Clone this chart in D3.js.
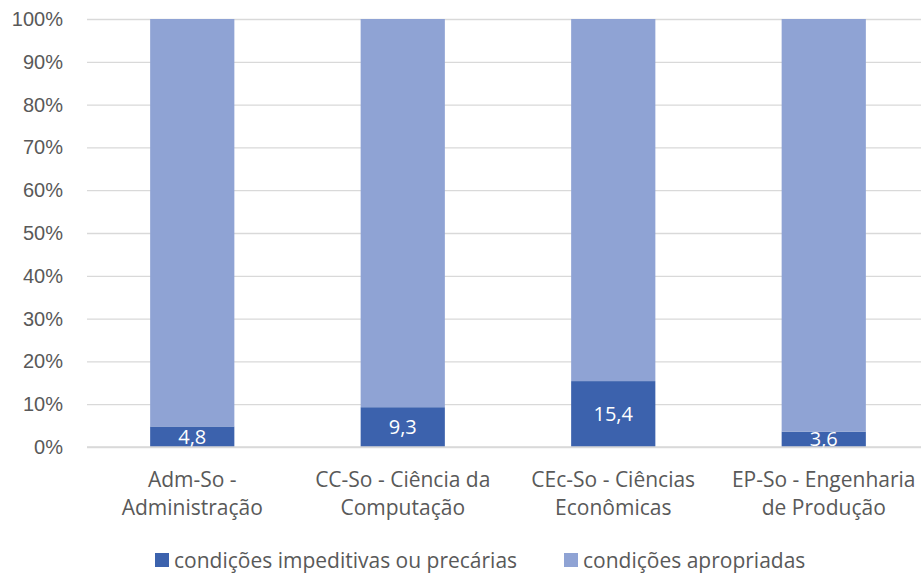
<!DOCTYPE html>
<html>
<head>
<meta charset="utf-8">
<script src="https://cdn.jsdelivr.net/npm/d3@7"></script>
<style>
  html, body { margin: 0; padding: 0; background: #fff; }
  svg { display: block; font-family: "Open Sans", "Noto Sans", sans-serif; }
</style>
</head>
<body>
<svg id="chart" width="921" height="576"></svg>
<script>
// Courses (two-line labels) and the share of each condition, in percent
const categories = [
  ["Adm-So -", "Administração"],
  ["CC-So - Ciência da", "Computação"],
  ["CEc-So - Ciências", "Econômicas"],
  ["EP-So - Engenharia", "de Produção"]
];
const impeditivas = [4.8, 9.3, 15.4, 3.6];
const apropriadas = [95.2, 90.7, 84.6, 96.4];
const seriesNames = ["condições impeditivas ou precárias", "condições apropriadas"];
const yTicks = [0, 10, 20, 30, 40, 50, 60, 70, 80, 90, 100];

const colors = ["#3C62AD", "#8FA3D4"];
const textColor = "#595959";

const svg = d3.select("#chart");
const margin = { left: 87, right: -8, top: 19, bottom: 129 };
const width = 921, height = 576;

const keys = categories.map((c, i) => i);
const x = d3.scaleBand()
  .domain(keys)
  .range([margin.left, width - margin.right])
  .paddingInner(0.6)
  .paddingOuter(0.3);

const y = d3.scaleLinear()
  .domain([0, 100])
  .range([height - margin.bottom, margin.top]);

// Gridlines and y tick labels
const yAxis = d3.axisLeft(y)
  .tickValues(yTicks)
  .tickFormat(d => d + "%")
  .tickSize(-(width - margin.left))
  .tickPadding(24);

const gy = svg.append("g")
  .attr("transform", `translate(${margin.left},0)`)
  .call(yAxis);
gy.select(".domain").remove();
gy.selectAll(".tick line").attr("stroke", "#D9D9D9").attr("stroke-width", 1.3);
gy.selectAll(".tick text")
  .attr("fill", textColor)
  .attr("font-size", 20);

// Stacked bars
const rows = keys.map(i => ({ key: i, a: impeditivas[i], b: apropriadas[i] }));
const stack = d3.stack().keys(["a", "b"]);
const stacked = stack(rows);

const layers = svg.append("g").selectAll("g")
  .data(stacked)
  .join("g")
  .attr("fill", (d, i) => colors[i]);

layers.selectAll("rect")
  .data(d => d)
  .join("rect")
  .attr("x", d => x(d.data.key))
  .attr("width", x.bandwidth())
  .attr("y", d => y(d[1]))
  .attr("height", d => y(d[0]) - y(d[1]));

// Value labels on the dark segment
svg.append("g").selectAll("text")
  .data(stacked[0])
  .join("text")
  .attr("x", d => x(d.data.key) + x.bandwidth() / 2)
  .attr("y", d => (y(d[0]) + y(d[1])) / 2)
  .attr("dy", "0.36em")
  .attr("text-anchor", "middle")
  .attr("fill", "#fff")
  .attr("font-size", 20)
  .text(d => d3.format(".1f")(d.data.a).replace(".", ","));

// Baseline gridline drawn over the bars' bottom edge
svg.append("line")
  .attr("x1", margin.left).attr("x2", width)
  .attr("y1", y(0)).attr("y2", y(0))
  .attr("stroke", "#D9D9D9").attr("stroke-width", 1.3);

// Category labels
const gx = svg.append("g");
keys.forEach(i => {
  const t = gx.append("text")
    .attr("x", x(i) + x.bandwidth() / 2)
    .attr("y", y(0) + 40)
    .attr("text-anchor", "middle")
    .attr("fill", textColor)
    .attr("font-size", 21);
  categories[i].forEach((line, j) => {
    t.append("tspan")
      .attr("x", x(i) + x.bandwidth() / 2)
      .attr("dy", j === 0 ? 0 : 28)
      .text(line);
  });
});

// Legend
const legendX = [155, 564];
const legend = svg.append("g");
seriesNames.forEach((name, i) => {
  legend.append("rect")
    .attr("x", legendX[i]).attr("y", 553)
    .attr("width", 14).attr("height", 14)
    .attr("fill", colors[i]);
  legend.append("text")
    .attr("x", legendX[i] + 19).attr("y", 568)
    .attr("fill", textColor)
    .attr("font-size", 21)
    .text(name);
});
</script>
</body>
</html>
